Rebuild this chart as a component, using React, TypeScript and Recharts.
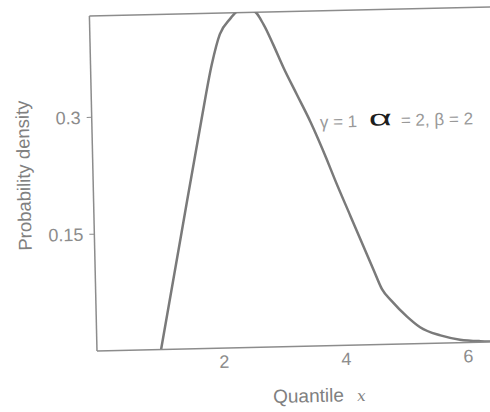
import React from 'react';
import { LineChart, Line, XAxis, YAxis, ReferenceLine, Label } from 'recharts';

// values (curve is clipped at the top frame)
const quantiles = [0.97, 1.35, 1.72, 1.905, 2.05, 2.22, 2.36, 2.6, 2.77, 2.92, 3.08, 3.29, 3.5, 3.75, 3.88, 4.12, 4.32, 4.48, 4.61, 4.77, 5.01, 5.22, 5.55, 5.87, 6.2, 6.8];
const density = [0, 0.15, 0.295, 0.364, 0.403, 0.422, 0.432, 0.432, 0.414, 0.388, 0.358, 0.323, 0.288, 0.24, 0.213, 0.166, 0.127, 0.096, 0.071, 0.055, 0.035, 0.021, 0.01, 0.004, 0.0015, 0];
const xTicks = [2, 4, 6];
const yTicks = [0.15, 0.3];
const xLabel = 'Quantile';
const xSymbol = 'x';
const yLabel = 'Probability density';
const paramGamma = 'γ = 1';
const paramAlpha = 'α';
const paramRest = '= 2, β = 2';

const data = quantiles.map((x, i) => ({ x, y: density[i] }));

const GRAY = '#8c8c8c';
const FONT = '"Liberation Sans", Arial, sans-serif';

export default function App() {
  return (
    <div style={{ position: 'fixed', left: 0, top: 0, width: 490, height: 412, overflow: 'hidden', background: '#fff' }}>
      {/* the scan is tilted a little, so the whole plot is turned round the origin corner */}
      <div style={{ position: 'absolute', left: 0, top: 0, width: 520, height: 412, transform: 'rotate(-1.3deg)', transformOrigin: '97px 351px' }}>
        <LineChart width={520} height={412} data={data} margin={{ top: 16, right: 3, left: 37, bottom: 21 }}>
          <XAxis
            dataKey="x"
            type="number"
            domain={[-0.08, 6.8]}
            ticks={xTicks}
            allowDataOverflow
            axisLine={{ stroke: GRAY, strokeWidth: 1.5 }}
            tickLine={false}
            tickSize={0}
            tickMargin={7}
            height={40}
            tick={{ fill: GRAY, fontSize: 18, fontFamily: FONT }}
            label={
              <Label
                content={() => (
                  <text x={272} y={407} fontFamily={FONT} fontSize={19} fill="#808080">
                    {xLabel}
                    <tspan x={356} fontFamily="'DejaVu Serif', serif" fontStyle="italic" fontSize={15}>{xSymbol}</tspan>
                  </text>
                )}
              />
            }
          />
          <YAxis
            type="number"
            domain={[0, 0.43]}
            ticks={yTicks}
            allowDataOverflow
            width={60}
            axisLine={{ stroke: GRAY, strokeWidth: 1.5 }}
            tickLine={{ stroke: GRAY }}
            tickSize={5}
            tickMargin={6}
            tick={{ fill: GRAY, fontSize: 18, fontFamily: FONT }}
            label={
              <Label
                content={() => (
                  <text x={34} y={174} transform="rotate(-90 34 174)" textAnchor="middle" fontFamily={FONT} fontSize={18.5} fill="#808080">
                    {yLabel}
                  </text>
                )}
              />
            }
          />
          <ReferenceLine
            y={0.43}
            stroke={GRAY}
            strokeWidth={1.5}
            label={
              <Label
                content={() => (
                  <g fontFamily={FONT}>
                    <text x={325} y={133} fontSize={17} fill="#999">{paramGamma}</text>
                    <text x={374} y={132} fontSize={22} fill="#1e1e1e" textLength={23} lengthAdjust="spacingAndGlyphs">
                      {paramAlpha}
                    </text>
                    <text x={406} y={133} fontSize={17} fill="#999">{paramRest}</text>
                  </g>
                )}
              />
            }
          />
          <Line
            type="monotone"
            dataKey="y"
            stroke="#7a7a7a"
            strokeWidth={2.5}
            dot={false}
            isAnimationActive={false}
          />
        </LineChart>
      </div>
    </div>
  );
}
